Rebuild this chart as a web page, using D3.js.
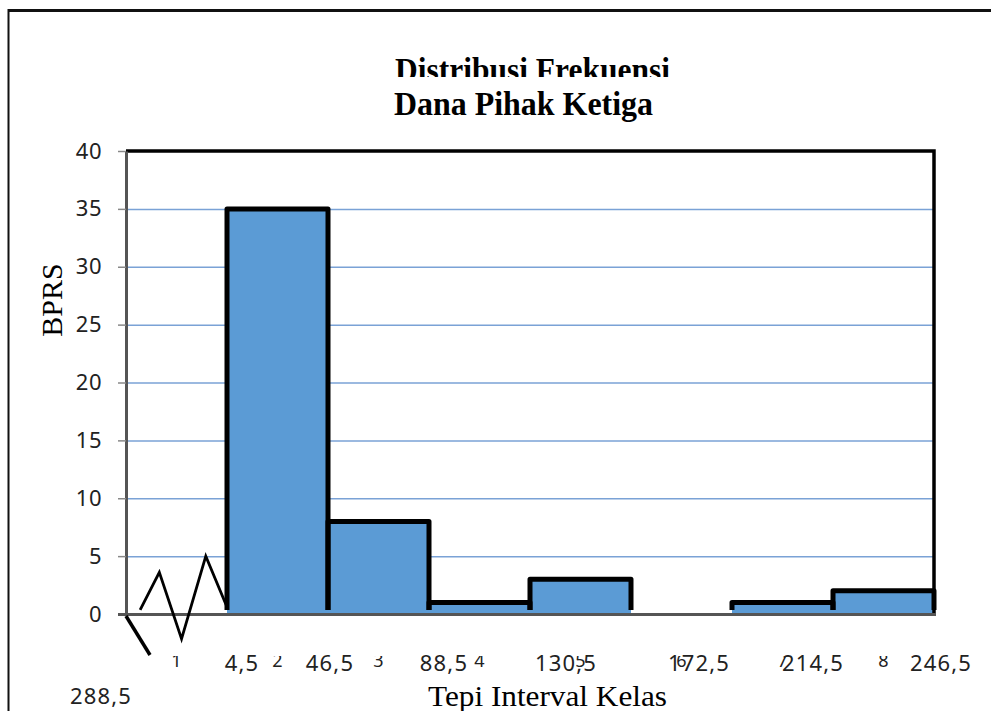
<!DOCTYPE html>
<html>
<head>
<meta charset="utf-8">
<script src="https://cdn.jsdelivr.net/npm/d3@7/dist/d3.min.js"></script>
<style>
  html, body { margin: 0; padding: 0; background: #fff; }
  svg { display: block; }
</style>
</head>
<body>
<svg id="chart" width="991" height="711"></svg>
<script>
// Frequency distribution data
const categories = ["1", "2", "3", "4", "5", "6", "7", "8"];
const frequencies = [0, 35, 8, 1, 3, 0, 1, 2];
const edgeLabels = ["4,5", "46,5", "88,5", "130,5", "172,5", "214,5", "246,5", "288,5"];
const yTicks = [0, 5, 10, 15, 20, 25, 30, 35, 40];

// Axis-break zigzag inside the first class: [fraction of band, value]
const breakPoints = [[0.14, 0.35], [0.33, 3.6], [0.55, -2.15], [0.79, 5.0], [1.0, 0.6]];

// Placement of the class-edge text boxes: offset from the start of a band
const edgeLabelLayout = [
  { band: 1, dx: 15, dy: 0 }, { band: 2, dx: 2, dy: 0 }, { band: 3, dx: 15, dy: 0 },
  { band: 4, dx: 36, dy: 0 }, { band: 5, dx: 68, dy: 0 }, { band: 6, dx: 81, dy: 0 },
  { band: 7, dx: 108, dy: 0 }, { band: 0, dx: -25, dy: 33 }
];

const svg = d3.select("#chart");
const plot = { left: 126, right: 934, top: 151, bottom: 614 };

const x = d3.scaleBand().domain(categories).range([plot.left, plot.right]).paddingInner(0).paddingOuter(0);
const y = d3.scaleLinear().domain([0, 40]).range([plot.bottom, plot.top]);

const sans = "'Noto Sans', 'Open Sans', sans-serif";
const serif = "'Liberation Serif', 'DejaVu Serif', serif";

// Outer frame
svg.append("line").attr("x1", 8).attr("x2", 991).attr("y1", 10.5).attr("y2", 10.5)
  .attr("stroke", "#111").attr("stroke-width", 3);
svg.append("line").attr("x1", 8.5).attr("x2", 8.5).attr("y1", 9).attr("y2", 711)
  .attr("stroke", "#111").attr("stroke-width", 2);

// Clip regions for partly hidden text
const defs = svg.append("defs");
defs.append("clipPath").attr("id", "titleClip")
  .append("rect").attr("x", 0).attr("y", 0).attr("width", 991).attr("height", 77);
defs.append("clipPath").attr("id", "catClip")
  .append("rect").attr("x", 0).attr("y", 656).attr("width", 991).attr("height", 60);

// Title
svg.append("text").attr("clip-path", "url(#titleClip)")
  .attr("x", 395).attr("y", 81)
  .attr("textLength", 275).attr("lengthAdjust", "spacingAndGlyphs")
  .attr("font-family", serif).attr("font-weight", "bold").attr("font-size", 33)
  .attr("fill", "#000").text("Distribusi Frekuensi");
svg.append("text")
  .attr("x", 394).attr("y", 115)
  .attr("textLength", 259).attr("lengthAdjust", "spacingAndGlyphs")
  .attr("font-family", serif).attr("font-weight", "bold").attr("font-size", 33)
  .attr("fill", "#000").text("Dana Pihak Ketiga");

// Gridlines
svg.append("g").selectAll("line")
  .data(yTicks.filter(t => t > 0 && t < 40))
  .join("line")
  .attr("x1", plot.left).attr("x2", plot.right)
  .attr("y1", d => y(d) + 0.5).attr("y2", d => y(d) + 0.5)
  .attr("stroke", "#7aa2d6").attr("stroke-width", 1.5);

// Bars
const barData = categories.map((c, i) => ({ c, v: frequencies[i] })).filter(d => d.v > 0);
svg.append("g").selectAll("rect")
  .data(barData)
  .join("rect")
  .attr("x", d => x(d.c)).attr("width", x.bandwidth())
  .attr("y", d => y(d.v)).attr("height", d => y(0) - y(d.v))
  .attr("fill", "#5b9bd5");

// Bar outlines (sides and top)
svg.append("g").selectAll("path")
  .data(barData)
  .join("path")
  .attr("d", d => {
    const x0 = x(d.c), x1 = x(d.c) + x.bandwidth(), yt = y(d.v), yb = y(0) - 4;
    return `M${x0},${yb}V${yt}H${x1}V${yb}`;
  })
  .attr("fill", "none").attr("stroke", "#000").attr("stroke-width", 5)
  .attr("stroke-linejoin", "round");

// Plot border: top and right
svg.append("path")
  .attr("d", `M${plot.left},${plot.top}H${plot.right}V${plot.bottom}`)
  .attr("fill", "none").attr("stroke", "#000").attr("stroke-width", 3.5);

// Y axis
const yAxis = svg.append("g").attr("transform", `translate(${plot.left},0)`)
  .call(d3.axisLeft(y).tickValues(yTicks).tickSize(8).tickPadding(16).tickSizeOuter(0));
yAxis.select(".domain").attr("stroke", "#555").attr("stroke-width", 3);
yAxis.selectAll(".tick line").attr("stroke", "#888").attr("stroke-width", 1.5);
yAxis.selectAll(".tick text").attr("font-family", sans).attr("font-size", 22)
  .attr("letter-spacing", 0.5).attr("fill", "#222");

// X axis baseline
svg.append("line")
  .attr("x1", plot.left - 8).attr("x2", plot.right + 2)
  .attr("y1", y(0) + 0.5).attr("y2", y(0) + 0.5)
  .attr("stroke", "#555").attr("stroke-width", 3);

// Axis break marks
const band = x.bandwidth();
svg.append("path")
  .datum(breakPoints)
  .attr("d", d3.line().x(d => x(categories[0]) + d[0] * band).y(d => y(d[1])))
  .attr("fill", "none").attr("stroke", "#000").attr("stroke-width", 2.8);
svg.append("line")
  .attr("x1", plot.left).attr("y1", y(0) + 2)
  .attr("x2", plot.left + 24).attr("y2", y(0) + 41)
  .attr("stroke", "#000").attr("stroke-width", 3.5);

// Category numbers (partly covered)
svg.append("g").attr("clip-path", "url(#catClip)").selectAll("text")
  .data(categories)
  .join("text")
  .attr("x", d => x(d) + band / 2).attr("y", 667)
  .attr("text-anchor", "middle")
  .attr("font-family", sans).attr("font-size", 18).attr("fill", "#222")
  .text(d => d);

// Class-edge labels
svg.append("g").selectAll("text")
  .data(edgeLabels)
  .join("text")
  .attr("x", (d, i) => x(categories[edgeLabelLayout[i].band]) + edgeLabelLayout[i].dx)
  .attr("y", (d, i) => 671 + edgeLabelLayout[i].dy)
  .attr("text-anchor", "middle")
  .attr("font-family", sans).attr("font-size", 22).attr("letter-spacing", 1.2)
  .attr("fill", "#222")
  .text(d => d);

// Axis titles
svg.append("text")
  .attr("x", 428).attr("y", 706)
  .attr("textLength", 239).attr("lengthAdjust", "spacingAndGlyphs")
  .attr("font-family", serif).attr("font-size", 30).attr("fill", "#000")
  .text("Tepi Interval Kelas");
svg.append("text")
  .attr("transform", "translate(62,300) rotate(-90)")
  .attr("text-anchor", "middle")
  .attr("font-family", serif).attr("font-size", 30).attr("fill", "#000")
  .text("BPRS");
</script>
</body>
</html>
